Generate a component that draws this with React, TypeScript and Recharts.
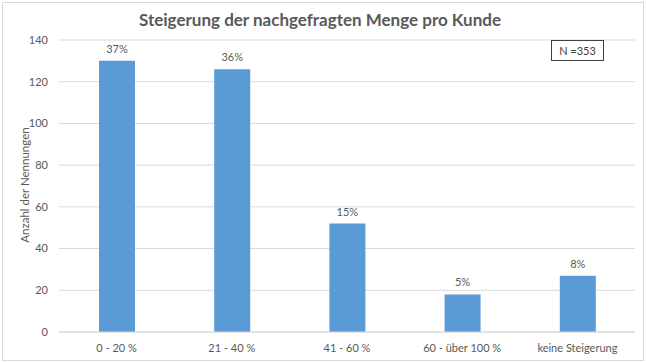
import { BarChart, Bar, XAxis, YAxis, CartesianGrid, LabelList } from "recharts";

const categories = ["0 - 20 %", "21 - 40 %", "41 - 60 %", "60 -  über 100 %", "keine Steigerung"];
const counts = [130, 126, 52, 18, 27];
const shares = ["37%", "36%", "15%", "5%", "8%"];
const yTicks = [0, 20, 40, 60, 80, 100, 120, 140];

const TITLE = "Steigerung der nachgefragten Menge pro Kunde";
const Y_LABEL = "Anzahl der Nennungen";
const N_NOTE = "N =353";

const FONT = "Lato, 'Open Sans', sans-serif";
const TEXT = "#595959";
const GRID = "#d9d9d9";
const BAR = "#5b9bd5";

const data = categories.map((c, i) => ({ cat: c, count: counts[i], share: shares[i] }));

if (typeof document !== "undefined") document.body.style.margin = "0";

const YLabel = ({ viewBox }: any) => {
  const cy = viewBox.y + viewBox.height / 2 - 1;
  return (
    <text x={24} y={cy} transform={`rotate(-90 24 ${cy})`} textAnchor="middle" dominantBaseline="central"
      fill={TEXT} fontSize={11.5} fontFamily={FONT}>
      {Y_LABEL}
    </text>
  );
};

export default function App() {
  return (
    <div style={{ position: "relative", width: 646, height: 362, background: "#fff", fontFamily: FONT }}>
      <div style={{ position: "absolute", left: 2, top: 2, width: 640, height: 357, border: `1px solid ${GRID}` }} />
      <div style={{ position: "absolute", left: 0, top: 9, width: 640, textAlign: "center", fontSize: 17, fontWeight: 700, color: TEXT, lineHeight: "22px" }}>
        {TITLE}
      </div>
      <BarChart width={646} height={362} data={data} margin={{ top: 40, right: 11, bottom: 0, left: 0 }}>
        <CartesianGrid vertical={false} stroke={GRID} />
        <XAxis dataKey="cat" height={30} tickLine={false} axisLine={{ stroke: GRID }} tickMargin={6}
          tick={{ fill: TEXT, fontSize: 11, fontFamily: FONT }} interval={0} />
        <YAxis width={59} domain={[0, 140]} ticks={yTicks} axisLine={false} tickLine={false} tickMargin={5}
          tick={{ fill: TEXT, fontSize: 11, fontFamily: FONT }} label={<YLabel />} />
        <Bar dataKey="count" fill={BAR} barSize={36} isAnimationActive={false}>
          <LabelList dataKey="share" position="top" offset={8} fill={TEXT} fontSize={11} fontFamily={FONT} />
        </Bar>
      </BarChart>
      <div style={{ position: "absolute", left: 551, top: 40, width: 51, height: 19, border: "1px solid #404040", background: "#fff",
        fontSize: 11, color: "#404040", textAlign: "center", lineHeight: "19px" }}>
        {N_NOTE}
      </div>
    </div>
  );
}
